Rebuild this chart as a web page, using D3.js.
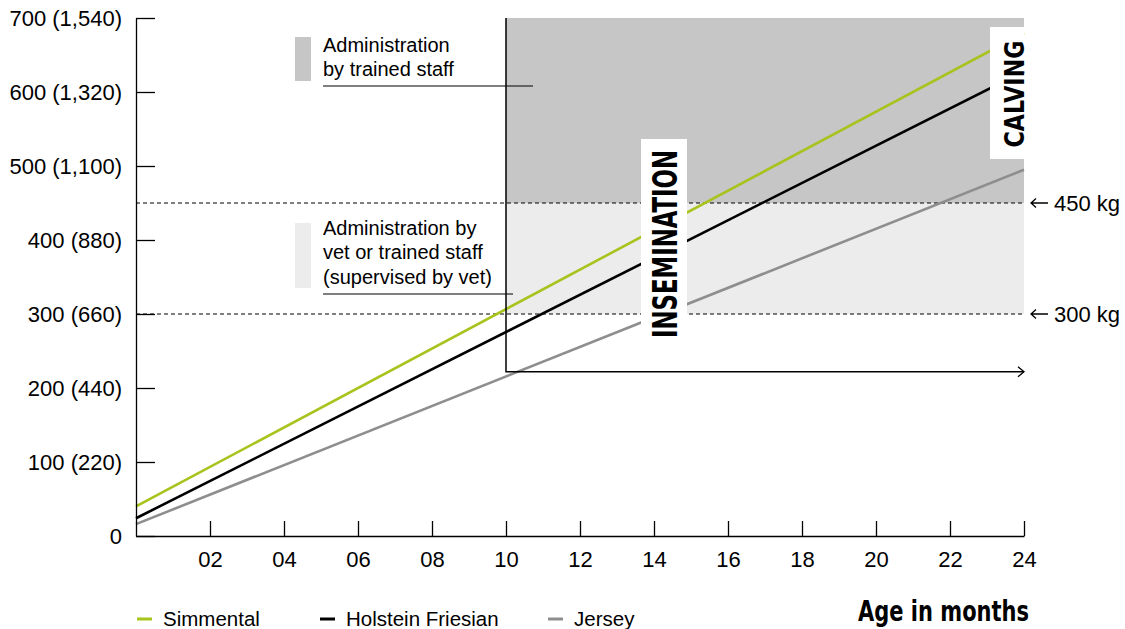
<!DOCTYPE html>
<html>
<head>
<meta charset="utf-8">
<script src="https://cdn.jsdelivr.net/npm/d3@7"></script>
<style>
  body { margin: 0; background: #fff; }
  svg { display: block; }
</style>
</head>
<body>
<svg id="chart" width="1125" height="629"></svg>
<script>
// weight in kg by age in months
var months = [0, 24];
var simmental = [40, 680];
var holstein = [24, 628];
var jersey = [16, 495];

var yTicks = [0, 100, 200, 300, 400, 500, 600, 700];
var yTickLabels = ["0", "100 (220)", "200 (440)", "300 (660)", "400 (880)", "500 (1,100)", "600 (1,320)", "700 (1,540)"];
var xTicks = [2, 4, 6, 8, 10, 12, 14, 16, 18, 20, 22, 24];
var xTickLabels = ["02", "04", "06", "08", "10", "12", "14", "16", "18", "20", "22", "24"];

var legendNames = ["Simmental", "Holstein Friesian", "Jersey"];
var legendColors = ["#a6c41c", "#000000", "#8e8e8e"];

var inseminationAge = 10, calvingAge = 24;
var limitLow = 300, limitHigh = 450, arrowWeight = 222;

var margin = { top: 18, left: 136 },
  width = 1024 - 136,
  height = 536 - 18;

var x = d3.scaleLinear().domain([0, 24]).range([0, width]);
var y = d3.scaleLinear().domain([0, 700]).range([height, 0]);

var svg = d3.select("#chart");
var g = svg.append("g")
  .attr("transform", "translate(" + margin.left + "," + margin.top + ")");

var sans = "'Liberation Sans', Arial, Helvetica, sans-serif";
var cond = "'DejaVu Sans', sans-serif";

// shaded regions
g.append("rect")
  .attr("x", x(inseminationAge)).attr("y", y(700))
  .attr("width", x(calvingAge) - x(inseminationAge))
  .attr("height", y(limitHigh) - y(700))
  .attr("fill", "#c6c6c6");
g.append("rect")
  .attr("x", x(inseminationAge)).attr("y", y(limitHigh))
  .attr("width", x(calvingAge) - x(inseminationAge))
  .attr("height", y(limitLow) - y(limitHigh))
  .attr("fill", "#ececec");

// dashed limits with arrow labels
[limitHigh, limitLow].forEach(function(v) {
  g.append("line")
    .attr("x1", 0).attr("x2", x(24))
    .attr("y1", y(v)).attr("y2", y(v))
    .attr("stroke", "#000").attr("stroke-width", 1)
    .attr("stroke-dasharray", "4,3");
  var ax = x(24) + 7, ay = y(v);
  g.append("path")
    .attr("d", "M" + (ax + 17) + "," + ay + "H" + ax + "M" + (ax + 5) + "," + (ay - 4.5) + "L" + ax + "," + ay + "L" + (ax + 5) + "," + (ay + 4.5))
    .attr("fill", "none").attr("stroke", "#000").attr("stroke-width", 1.3);
  g.append("text")
    .attr("x", x(24) + 30).attr("y", y(v) + 8)
    .style("font-family", sans).style("font-size", "22px")
    .text(v + " kg");
});

// legend boxes for zones
var zoneNotes = [
  { fill: "#c6c6c6", y0: 37, y1: 81, lines: ["Administration", "by trained staff"], base: 52, under: 86, ux2: 533 },
  { fill: "#ececec", y0: 223, y1: 288, lines: ["Administration by", "vet or trained staff", "(supervised by vet)"], base: 235, under: 294, ux2: 513 }
];
zoneNotes.forEach(function(n) {
  svg.append("rect").attr("x", 295).attr("y", n.y0)
    .attr("width", 16).attr("height", n.y1 - n.y0).attr("fill", n.fill);
  n.lines.forEach(function(t, i) {
    svg.append("text").attr("x", 323).attr("y", n.base + i * 24.3)
      .style("font-family", sans).style("font-size", "20px")
      .text(t);
  });
  svg.append("line").attr("x1", 323).attr("x2", n.ux2)
    .attr("y1", n.under).attr("y2", n.under)
    .attr("stroke", "#000").attr("stroke-width", 1.2);
});

// weight lines
var line = d3.line()
  .x(function(d) { return x(d[0]); })
  .y(function(d) { return y(d[1]); });

[simmental, holstein, jersey].forEach(function(s, i) {
  g.append("path")
    .datum(months.map(function(m, j) { return [m, s[j]]; }))
    .attr("d", line)
    .attr("fill", "none")
    .attr("stroke", legendColors[i])
    .attr("stroke-width", 2.6);
});

// insemination line and arrow
g.append("path")
  .attr("d", "M" + x(inseminationAge) + "," + y(700) + "V" + y(arrowWeight) + "H" + x(24))
  .attr("fill", "none").attr("stroke", "#000").attr("stroke-width", 1.5);
g.append("path")
  .attr("d", "M" + (x(24) - 6) + "," + (y(arrowWeight) - 5) + "L" + x(24) + "," + y(arrowWeight) + "L" + (x(24) - 6) + "," + (y(arrowWeight) + 5))
  .attr("fill", "none").attr("stroke", "#000").attr("stroke-width", 1.3);

// white label boxes
function vLabel(bx0, bx1, y0, y1, cx, text, len, size) {
  svg.append("rect").attr("x", bx0).attr("y", y0)
    .attr("width", bx1 - bx0).attr("height", y1 - y0).attr("fill", "#fff");
  svg.append("text")
    .attr("transform", "translate(" + (cx + size * 0.36) + "," + ((y0 + y1) / 2 + 1) + ") rotate(-90)")
    .attr("text-anchor", "middle")
    .attr("textLength", len).attr("lengthAdjust", "spacingAndGlyphs")
    .style("font-family", cond).style("font-weight", "bold")
    .style("font-size", size + "px")
    .text(text);
}
vLabel(641, 687, 139, 347, 665.5, "INSEMINATION", 188, 33);
vLabel(990, 1024, 27, 159, 1014.5, "CALVING", 107, 27);

// axes
var yAxis = d3.axisLeft(y)
  .tickValues(yTicks)
  .tickFormat(function(d, i) { return yTickLabels[i]; })
  .tickSizeInner(-19).tickSizeOuter(0).tickPadding(14);
var xAxis = d3.axisBottom(x)
  .tickValues(xTicks)
  .tickFormat(function(d, i) { return xTickLabels[i]; })
  .tickSizeInner(-15).tickSizeOuter(0).tickPadding(15);

var ya = g.append("g").call(yAxis);
var xa = g.append("g").attr("transform", "translate(0," + height + ")").call(xAxis);
[ya, xa].forEach(function(a) {
  a.selectAll("path, line").attr("stroke", "#000").attr("stroke-width", 1.3);
  a.selectAll("text").style("font-family", sans).style("font-size", "22px").attr("fill", "#000");
});

// bottom legend
var legendX = [137, 320, 548];
legendNames.forEach(function(n, i) {
  svg.append("line").attr("x1", legendX[i]).attr("x2", legendX[i] + 15)
    .attr("y1", 619).attr("y2", 619)
    .attr("stroke", legendColors[i]).attr("stroke-width", 3);
  svg.append("text").attr("x", legendX[i] + 26).attr("y", 626)
    .style("font-family", sans).style("font-size", "20.5px")
    .text(n);
});

svg.append("text")
  .attr("x", 858).attr("y", 621)
  .attr("textLength", 171).attr("lengthAdjust", "spacingAndGlyphs")
  .style("font-family", cond).style("font-weight", "bold").style("font-size", "29px")
  .text("Age in months");
</script>
</body>
</html>
